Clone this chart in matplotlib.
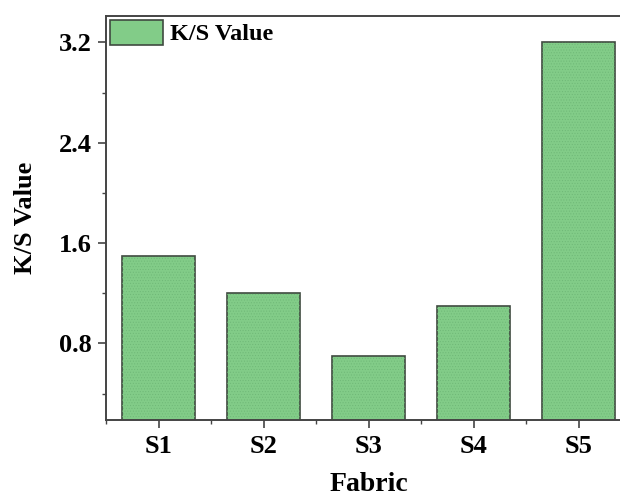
import matplotlib
matplotlib.use("Agg")
import matplotlib.pyplot as plt
from matplotlib.ticker import FixedLocator

# K/S values per fabric sample
fabrics = ["S1", "S2", "S3", "S4", "S5"]
ks_values = [1.5, 1.2, 0.7, 1.1, 3.2]
y_ticks = [0.8, 1.6, 2.4, 3.2]

plt.rcParams["font.family"] = ["Liberation Serif", "DejaVu Serif"]
plt.rcParams["font.weight"] = "bold"
plt.rcParams["hatch.linewidth"] = 0.4

W, H = 620, 498
fig = plt.figure(figsize=(W / 100, H / 100), dpi=100)
# axes run slightly past the right edge of the figure
left, right, top, bottom = 106, 631, 16, 420
ax = fig.add_axes([left / W, 1 - bottom / H, (right - left) / W, (bottom - top) / H])

x = list(range(1, len(fabrics) + 1))
fill = "#82cc88"
ax.bar(x, ks_values, width=0.7, color=fill, edgecolor="#3f4a40",
       linewidth=1.2, label="K/S Value", zorder=2)
ax.bar(x, ks_values, width=0.7, facecolor="none", edgecolor="#6fb877",
       hatch="......", linewidth=0, zorder=2.5)

ax.set_xlim(0.5, 5.5)
ax.set_ylim(0.19, 3.41)
ax.set_xticks(x)
ax.set_xticklabels(fabrics)
ax.xaxis.set_minor_locator(FixedLocator([0.5, 1.5, 2.5, 3.5, 4.5]))
ax.set_yticks(y_ticks)
ax.set_yticklabels([f"{v:.1f}" for v in y_ticks])
ax.yaxis.set_minor_locator(FixedLocator([0.4, 1.2, 2.0, 2.8]))

for side in ["left", "bottom", "top", "right"]:
    ax.spines[side].set_linewidth(1.4)
    ax.spines[side].set_color("#444444")

ax.tick_params(axis="both", which="major", direction="out", length=6, width=1.2,
               color="#444444", labelsize=19, pad=4)
ax.tick_params(axis="x", which="major", pad=5)
ax.tick_params(axis="both", which="minor", direction="out", length=3, width=1.0,
               color="#444444")
ax.tick_params(top=False, right=False, which="both")

ax.set_xlabel("Fabric", fontsize=20, fontweight="bold", labelpad=10)
ax.set_ylabel("K/S Value", fontsize=19, fontweight="bold", labelpad=16)

leg = ax.legend(loc="upper left", frameon=False, fontsize=17.5, handlelength=2.2,
                handleheight=1.2, borderaxespad=0.05, borderpad=0.1, handletextpad=0.3)

fig.savefig("out.png", dpi=100)
